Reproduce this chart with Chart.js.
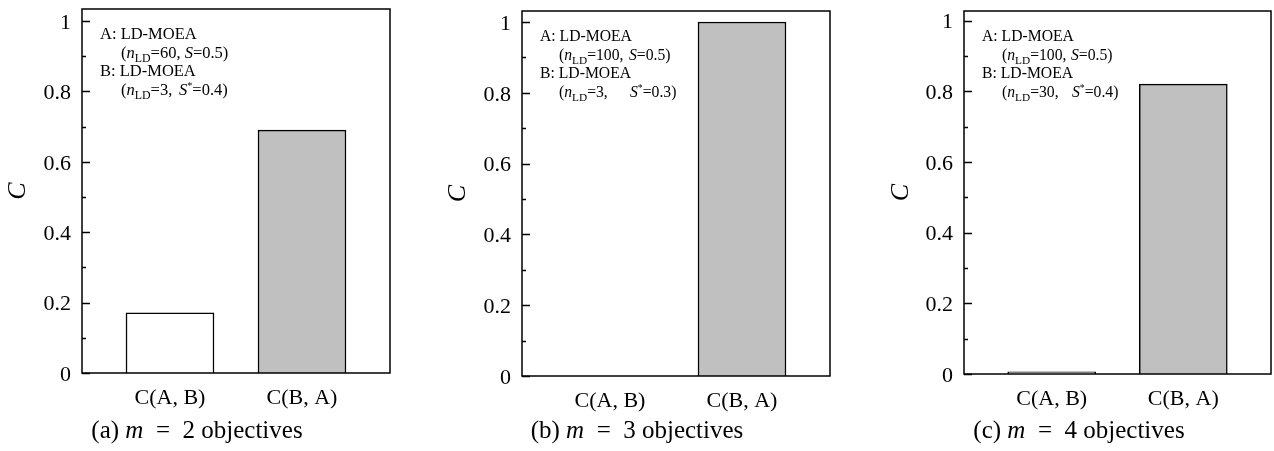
<!DOCTYPE html>
<html><head><meta charset="utf-8">
<script src="https://cdn.jsdelivr.net/npm/chart.js@4.4.1/dist/chart.umd.min.js"></script>
<style>
html,body{margin:0;padding:0;background:#fff;width:1274px;height:451px;overflow:hidden}
canvas{position:absolute;top:0}
</style></head><body>
<canvas id="ca" style="left:0px" width="425" height="451"></canvas>
<canvas id="cb" style="left:425px" width="435" height="451"></canvas>
<canvas id="cc" style="left:860px" width="414" height="451"></canvas>
<script>
// ---- data ----
const categories = ['C(A, B)', 'C(B, A)'];
const panelLetters = ['a', 'b', 'c'];
const objectiveCounts = [2, 3, 4];
const valuesM2 = [0.171, 0.69];
const valuesM3 = [0, 1.0];
const valuesM4 = [0.006, 0.82];
const yTickValues = [0, 0.2, 0.4, 0.6, 0.8, 1];
const yTickLabels = ['0', '0.2', '0.4', '0.6', '0.8', '1'];
const nLdA = ['60', '100', '100'];
const sA = ['0.5', '0.5', '0.5'];
const nLdB = ['3', '3', '30'];
const sStarB = ['0.4', '0.3', '0.4'];
const barColors = ['#ffffff', '#c0c0c0'];
const panelValues = [valuesM2, valuesM3, valuesM4];

// ---- layout (sizes only) ----
const layouts = [
  {id: 'ca', yW: 82, padT: 9, padR: 35, xH: 78, ymax: 1.034, titlePad: 3, annSize: 16.5, paren: 39, s2: 95, s4: 97},
  {id: 'cb', yW: 97, padT: 11, padR: 30, xH: 75, ymax: 1.031, titlePad: 18, annSize: 15.7, paren: 37, s2: 107, s4: 108},
  {id: 'cc', yW: 104, padT: 11, padR: 3, xH: 77, ymax: 1.027, titlePad: 26, annSize: 15.7, paren: 38, s2: 107, s4: 108}
];
const FONT = '"Liberation Serif", "DejaVu Serif", serif';

function drawRich(ctx, x, y, segs, size) {
  for (const s of segs) {
    if (s.at !== undefined) x = Math.max(x, s.at);
    let fs = size, dy = 0, style = '';
    if (s.k === 'i') style = 'italic ';
    if (s.k === 'sub') { fs = size * 0.72; dy = size * 0.25; }
    if (s.k === 'sup') { fs = size * 0.62; dy = -size * 0.36; }
    ctx.font = style + fs + 'px ' + FONT;
    ctx.fillText(s.t, x, y + dy);
    x += ctx.measureText(s.t).width;
  }
  return x;
}
function richWidth(ctx, segs, size) {
  let w = 0;
  for (const s of segs) {
    ctx.font = (s.k === 'i' ? 'italic ' : '') + size + 'px ' + FONT;
    w += ctx.measureText(s.t).width;
  }
  return w;
}

const decor = {
  id: 'decor',
  afterDraw(chart, args, o) {
    const {ctx, chartArea: ca, scales: {y}} = chart;
    const i = o.index, L = layouts[i];
    ctx.save();
    ctx.strokeStyle = '#000';
    ctx.lineWidth = 1.5;
    ctx.strokeRect(ca.left, ca.top, ca.right - ca.left, ca.bottom - ca.top);
    // inward ticks
    y.ticks.forEach(t => {
      const py = Math.round(y.getPixelForValue(t.value)) + 0.5;
      const major = Math.abs(t.value * 5 - Math.round(t.value * 5)) < 1e-6;
      const len = major ? 8 : 4;
      ctx.beginPath();
      ctx.moveTo(ca.left, py);
      ctx.lineTo(ca.left + len, py);
      ctx.stroke();
    });
    // annotation
    ctx.fillStyle = '#000';
    ctx.textBaseline = 'alphabetic';
    ctx.textAlign = 'left';
    const z = L.annSize, x0 = ca.left;
    drawRich(ctx, x0 + 18, ca.top + 30, [{t: 'A: LD-MOEA'}], z);
    drawRich(ctx, x0 + L.paren, ca.top + 49, [
      {t: '('}, {t: 'n', k: 'i'}, {t: 'LD', k: 'sub'}, {t: '=' + nLdA[i] + ', '},
      {t: 'S', k: 'i', at: x0 + L.s2}, {t: '=' + sA[i] + ')'}], z);
    drawRich(ctx, x0 + 18, ca.top + 67, [{t: 'B: LD-MOEA'}], z);
    drawRich(ctx, x0 + L.paren, ca.top + 86, [
      {t: '('}, {t: 'n', k: 'i'}, {t: 'LD', k: 'sub'}, {t: '=' + nLdB[i] + ', '},
      {t: 'S', k: 'i', at: x0 + L.s4}, {t: '*', k: 'sup'}, {t: '=' + sStarB[i] + ')'}], z);
    // caption
    const cs = 25;
    const segs = [{t: '(' + panelLetters[i] + ') '}, {t: 'm', k: 'i'}, {t: '  =  '}, {t: objectiveCounts[i] + ' objectives'}];
    const w = richWidth(ctx, segs, cs);
    ctx.textBaseline = 'middle';
    drawRich(ctx, ca.left + 115 - w / 2, 431, segs, cs);
    ctx.restore();
  }
};

layouts.forEach((L, i) => {
  new Chart(document.getElementById(L.id), {
    type: 'bar',
    data: {
      datasets: [{
        data: panelValues[i].map((v, k) => ({x: k, y: v})),
        backgroundColor: barColors,
        borderColor: '#000',
        borderWidth: 1.5,
        barThickness: 88
      }]
    },
    options: {
      responsive: false,
      animation: false,
      events: [],
      layout: {padding: {top: L.padT, right: L.padR, left: 0, bottom: 0}},
      plugins: {legend: {display: false}, tooltip: {enabled: false}, decor: {index: i}},
      scales: {
        x: {
          type: 'linear',
          offset: false,
          min: -2 / 3,
          max: 5 / 3,
          grid: {display: false, offset: false},
          border: {display: false},
          afterBuildTicks: s => { s.ticks = categories.map((c, k) => ({value: k})); },
          afterFit: s => { s.height = L.xH; s.paddingLeft = 0; s.paddingRight = 0; },
          ticks: {
            autoSkip: false, maxRotation: 0, padding: 4, color: '#000',
            font: {family: FONT, size: 22},
            callback: v => categories[v] !== undefined ? categories[v] : ''
          }
        },
        y: {
          type: 'linear',
          min: 0,
          max: L.ymax,
          grid: {display: false},
          border: {display: false},
          afterFit: s => { s.width = L.yW; s.paddingTop = 0; s.paddingBottom = 0; },
          title: {display: true, text: 'C', color: '#000',
                  font: {family: FONT, size: 26, style: 'italic'},
                  padding: {top: L.titlePad, bottom: 0}},
          ticks: {
            stepSize: 0.1, includeBounds: false, autoSkip: false, padding: 3, labelOffset: 2, color: '#000',
            font: {family: FONT, size: 22},
            callback: v => {
              const k = yTickValues.findIndex(t => Math.abs(t - v) < 1e-6);
              return k >= 0 ? yTickLabels[k] : '';
            }
          }
        }
      }
    },
    plugins: [decor]
  });
});
</script>
</body></html>
